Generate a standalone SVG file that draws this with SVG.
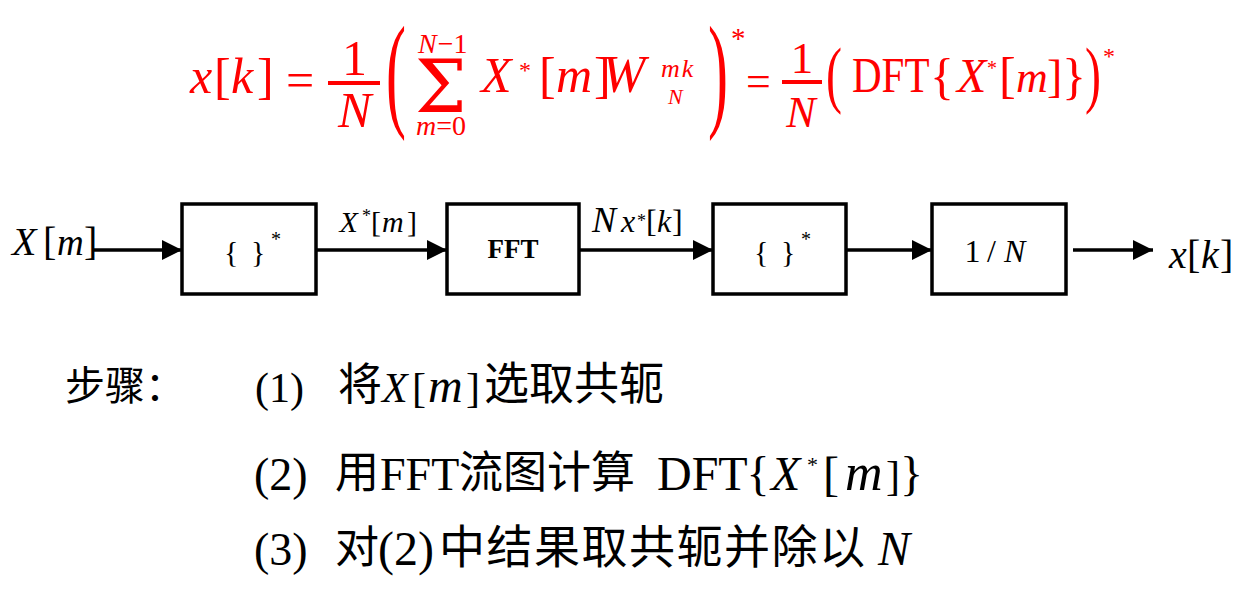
<svg xmlns="http://www.w3.org/2000/svg" width="1252" height="589" viewBox="0 0 1252 589">
<style>
.t{font-family:"Liberation Serif","Times New Roman",serif;fill:#000}
.i{font-style:italic}
.red{fill:#FF0000}
.sig{font-family:"DejaVu Serif","Liberation Serif",serif}
.cjk{font-family:"Noto Sans CJK SC","Noto Sans CJK JP",sans-serif}
.box{fill:#fff;stroke:#000;stroke-width:3.5}
.wire{stroke:#000;stroke-width:3.5;fill:none}
.bar{stroke:#FF0000;stroke-width:4}
</style>
<defs>
<marker id="ah" markerUnits="userSpaceOnUse" markerWidth="22" markerHeight="22" refX="20" refY="10" orient="auto">
<path d="M0,0 L20,10 L0,20 Z" fill="#000"/>
</marker>
</defs>
<rect width="1252" height="589" fill="#fff"/>

<g id="formula">
<text class="t red" font-size="50"><tspan class="i" x="190" y="93">x</tspan><tspan x="214" y="93">[</tspan><tspan class="i" x="231" y="93">k</tspan><tspan x="257" y="93">]</tspan><tspan x="286" y="97">=</tspan><tspan x="342" y="75">1</tspan><tspan class="i" x="338" y="127">N</tspan></text>
<line class="bar" x1="328" y1="83" x2="380" y2="83"/>
<text class="t red" font-size="40" transform="translate(386,113.5) scale(1.5,3.2)">(</text>
<text class="t red" font-size="28"><tspan class="i" x="418" y="53" letter-spacing="1">N</tspan><tspan>−1</tspan><tspan class="sig" x="415" y="112" font-size="73">Σ</tspan><tspan class="i" x="416" y="135">m</tspan><tspan>=0</tspan><tspan class="i" x="481" y="92" font-size="50">X</tspan><tspan x="519" y="78" font-size="24">*</tspan><tspan x="539" y="92" font-size="50">[</tspan><tspan class="i" x="556" y="92" font-size="50">m</tspan><tspan x="594" y="92" font-size="50">]</tspan><tspan class="i" x="602" y="92" font-size="52">W</tspan><tspan class="i" x="661" y="77" font-size="26" letter-spacing="2">mk</tspan><tspan class="i" x="668" y="104" font-size="22">N</tspan></text>
<text class="t red" font-size="40" transform="translate(708,113.5) scale(1.5,3.2)">)</text>
<text class="t red" font-size="44"><tspan x="731" y="48" font-size="29">*</tspan><tspan x="746" y="96">=</tspan><tspan x="790.75" y="73" font-size="45">1</tspan><tspan class="i" x="786.3" y="127">N</tspan></text>
<line class="bar" x1="782" y1="82" x2="822" y2="82"/>
<text class="t red" font-size="40" transform="translate(826,98.6) scale(1.2,1.87)">(</text>
<text class="t red" font-size="50" transform="translate(852,92) scale(0.82,1)">DFT</text>
<text class="t red" font-size="50"><tspan x="930" y="93">{</tspan><tspan class="i" x="957" y="92" font-size="48">X</tspan><tspan x="987" y="75" font-size="20">*</tspan><tspan x="999" y="92">[</tspan><tspan class="i" x="1016" y="92" font-size="44">m</tspan><tspan x="1047" y="92" font-size="46">]</tspan><tspan x="1062" y="93">}</tspan></text>
<text class="t red" font-size="40" transform="translate(1085,98.6) scale(1.2,1.87)">)</text>
<text class="t red" x="1103" y="64" font-size="24">*</text>
</g>

<g id="connectors">
<line class="wire" x1="92" y1="250" x2="182" y2="250" marker-end="url(#ah)"/>
<line class="wire" x1="316" y1="250" x2="447" y2="250" marker-end="url(#ah)"/>
<line class="wire" x1="579" y1="250" x2="713" y2="250" marker-end="url(#ah)"/>
<line class="wire" x1="846" y1="250" x2="932" y2="250" marker-end="url(#ah)"/>
<line class="wire" x1="1073" y1="250" x2="1153" y2="250" marker-end="url(#ah)"/>
</g>

<g id="input">
<text class="t" font-size="40"><tspan class="i" x="12" y="255">X</tspan><tspan x="43" y="255">[</tspan><tspan class="i" x="57" y="255" font-size="37">m</tspan><tspan x="84" y="255">]</tspan></text>
</g>

<g id="node-conj1">
<rect class="box" x="182" y="204" width="134" height="90"/>
<text class="t" font-size="30"><tspan x="224" y="262">{</tspan><tspan x="251" y="262">}</tspan><tspan x="271" y="246" font-size="20">*</tspan></text>
</g>

<g id="label-xconj">
<text class="t" font-size="30"><tspan class="i" x="339.5" y="232">X</tspan><tspan x="362" y="222" font-size="18">*</tspan><tspan x="371" y="232">[</tspan><tspan class="i" x="382" y="232">m</tspan><tspan x="407" y="232">]</tspan></text>
</g>

<g id="node-fft">
<rect class="box" x="447" y="204" width="132" height="90"/>
<text class="t" x="513" y="258" font-size="27" font-weight="bold" text-anchor="middle">FFT</text>
</g>

<g id="label-nx">
<text class="t" font-size="32"><tspan class="i" x="592" y="232" font-size="36">N</tspan><tspan class="i" x="621" y="232">x</tspan><tspan x="637" y="227" font-size="18">*</tspan><tspan x="646" y="232">[</tspan><tspan class="i" x="657" y="232">k</tspan><tspan x="672" y="232">]</tspan></text>
</g>

<g id="node-conj2">
<rect class="box" x="713" y="204" width="133" height="90"/>
<text class="t" font-size="30"><tspan x="754" y="262">{</tspan><tspan x="781" y="262">}</tspan><tspan x="801" y="246" font-size="20">*</tspan></text>
</g>

<g id="node-scale">
<rect class="box" x="932" y="204" width="134" height="90"/>
<text class="t" font-size="32"><tspan x="964.5" y="262">1</tspan><tspan x="987" y="262">/</tspan><tspan class="i" x="1004" y="262">N</tspan></text>
</g>

<g id="output">
<text class="t" font-size="40"><tspan class="i" x="1169" y="268">x</tspan><tspan x="1187" y="268">[</tspan><tspan class="i" x="1201" y="268">k</tspan><tspan x="1220" y="268">]</tspan></text>
</g>

<g id="steps">
<text class="t" font-size="42"><tspan class="cjk" x="65" y="400" font-size="40">步骤：</tspan><tspan x="255" y="402">(1)</tspan><tspan class="cjk" x="338" y="400" font-size="44">将</tspan><tspan class="i" x="382" y="402">X</tspan><tspan x="412" y="402">[</tspan><tspan class="i" x="428" y="402" font-size="48">m</tspan><tspan x="466" y="402">]</tspan><tspan class="cjk" x="484" y="400" font-size="45">选取共轭</tspan></text>
<text class="t" font-size="48"><tspan x="254" y="490" font-size="46">(2)</tspan><tspan class="cjk" x="335" y="488" font-size="44">用</tspan><tspan x="380" y="490" font-size="46">FFT</tspan><tspan class="cjk" x="459" y="488" font-size="44">流图计算</tspan><tspan x="657" y="490">DFT</tspan><tspan x="746.5" y="490">{</tspan><tspan class="i" x="771" y="490">X</tspan><tspan x="807" y="472" font-size="22">*</tspan><tspan x="823" y="490">[</tspan><tspan class="i" x="845" y="490" font-size="52">m</tspan><tspan x="886" y="490" font-size="42">]</tspan><tspan x="900" y="490">}</tspan></text>
<text class="t" font-size="48"><tspan x="254" y="565" font-size="46">(3)</tspan><tspan class="cjk" x="335" y="563" font-size="44">对</tspan><tspan x="378" y="565">(2)</tspan><tspan class="cjk" x="439" y="563" font-size="46" letter-spacing="1.5">中结果取共轭并除以</tspan><tspan class="i" x="878" y="565">N</tspan></text>
</g>
</svg>
